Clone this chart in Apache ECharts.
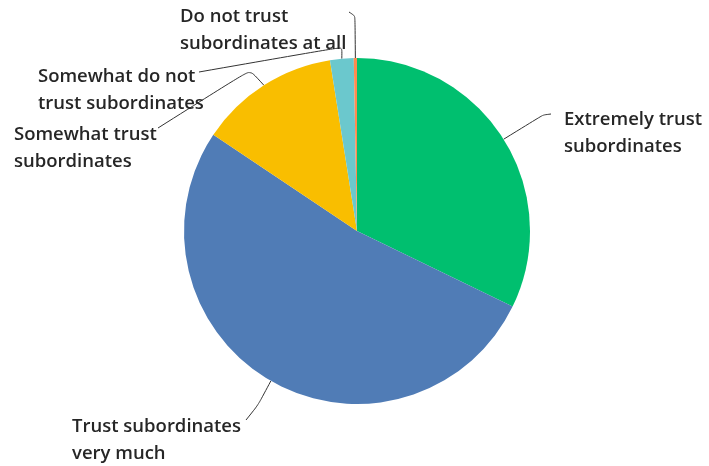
<!DOCTYPE html>
<html>
<head>
<meta charset="utf-8">
<title>Trust in subordinates</title>
<script src="https://cdn.jsdelivr.net/npm/echarts@6/dist/echarts.min.js"></script>
</head>
<body style="margin:0;background:#fff">
<div id="main" style="width:709px;height:466px;"></div>
<script type="text/javascript">
// slices, clockwise from 12 o'clock
var names = ['Extremely trust\nsubordinates', 'Trust subordinates\nvery much', 'Somewhat trust\nsubordinates', 'Somewhat do not\ntrust subordinates', 'Do not trust\nsubordinates at all'];
var shares = [32.2, 52.2, 13.1, 2.2, 0.3];
var colors = ['#00BF6F', '#507CB6', '#F9BE00', '#6BC8CD', '#FF8B4F'];

// where each label sits (left edge, vertical middle) and the bends of its leader line
var labelPos = [[564, 133], [72, 440], [14, 148], [38, 90], [180, 30]];
var bends = [
    [[543, 115], [551, 114]],
    [[258, 405], [246, 420]],
    [[250, 70], [158, 128]],
    [[342, 47], [199, 72]],
    [[355, 16], [349, 12]]
];

var data = [];
for (var i = 0; i < names.length; i++) {
    data.push({name: names[i], value: shares[i], itemStyle: {color: colors[i]}});
}

var myChart = echarts.init(document.getElementById('main'));
var option = {
    animation: false,
    series: [{
        type: 'pie',
        center: [357, 231],
        radius: 173,
        startAngle: 90,
        clockwise: true,
        data: data,
        label: {
            show: true,
            position: 'outside',
            formatter: '{b}',
            fontFamily: 'Open Sans',
            fontWeight: 600,
            fontSize: 18.5,
            lineHeight: 27.5,
            color: '#262626'
        },
        labelLine: {
            show: true,
            smooth: 0.2,
            lineStyle: {color: '#333', width: 1}
        },
        labelLayout: function (params) {
            var i = params.dataIndex;
            var start = params.labelLinePoints ? params.labelLinePoints[0] : null;
            var pts = start ? [start].concat(bends[i]) : bends[i];
            return {
                x: labelPos[i][0],
                y: labelPos[i][1],
                align: 'left',
                verticalAlign: 'middle',
                labelLinePoints: pts
            };
        },
        emphasis: {disabled: true}
    }]
};
myChart.setOption(option);
</script>
</body>
</html>
